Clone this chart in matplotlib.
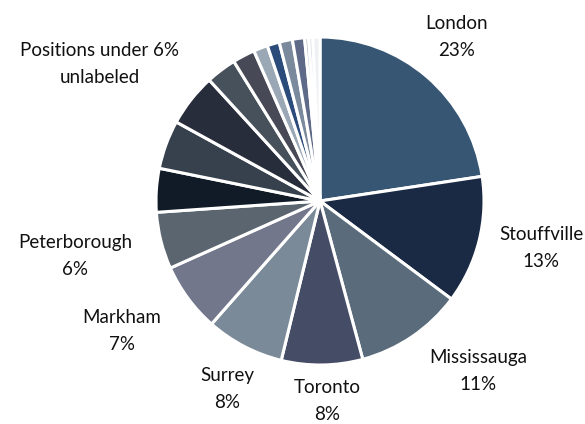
import matplotlib
matplotlib.use("Agg")
import matplotlib.pyplot as plt

# share of positions by city (percent)
cities = ["London", "Stouffville", "Mississauga", "Toronto", "Surrey", "Markham", "Peterborough"]
city_share = [22.6, 12.6, 10.6, 8.0, 7.7, 6.8, 5.6]
# remaining positions, each under 6%, unlabeled
other_share = [4.3, 4.8, 5.2, 3.0, 2.2, 1.4, 1.2, 1.3, 1.2, 0.4, 0.4, 0.7]

city_colors = ["#375674", "#1b2a44", "#5a6b7b", "#454d66", "#7a8a98", "#72778b", "#5b6570"]
other_colors = ["#111b28", "#36414d", "#282d3b", "#47515c", "#474a56", "#9aa8b6",
                "#2b4b7a", "#7a8a9c", "#5f6a88", "#b8c0cb", "#d5dae1", "#eef0f3"]

# label centres in pixel coords (x, y from top)
label_pos = {
    "London": (457, 37),
    "Stouffville": (541, 248),
    "Mississauga": (478, 371),
    "Toronto": (327, 401),
    "Surrey": (227, 389),
    "Markham": (122, 331),
    "Peterborough": (75, 256),
}
note_pos = (100, 64)

W, H = 585, 424
plt.rcParams["font.family"] = ["Lato", "DejaVu Sans"]

fig = plt.figure(figsize=(W / 100, H / 100), dpi=100)
ax = fig.add_axes([0, 0, 1, 1])

values = city_share + other_share
colors = city_colors + other_colors
ax.pie(values, colors=colors, startangle=90, counterclock=False,
       center=(320, H - 201), radius=164,
       wedgeprops=dict(edgecolor="white", linewidth=2.2))

ax.set_xlim(0, W)
ax.set_ylim(0, H)
ax.set_aspect("equal")
ax.axis("off")

for name, share in zip(cities, city_share):
    x, y = label_pos[name]
    ax.text(x, H - y, f"{name}\n{round(share)}%", ha="center", va="center",
            fontsize=13.5, color="#111111", linespacing=1.7)

ax.text(note_pos[0], H - note_pos[1], "Positions under 6%\nunlabeled", ha="center",
        va="center", fontsize=13.5, color="#111111", linespacing=1.7)

fig.savefig("out.png", dpi=100)
plt.close(fig)
